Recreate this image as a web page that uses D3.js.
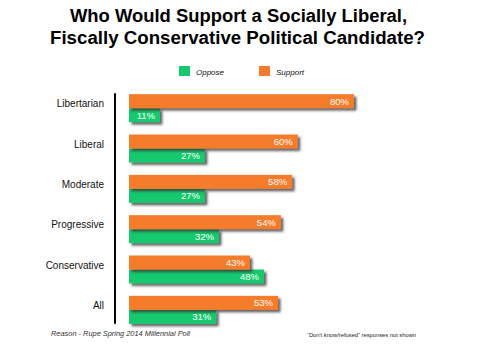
<!DOCTYPE html>
<html>
<head>
<meta charset="utf-8">
<script src="https://cdn.jsdelivr.net/npm/d3@7"></script>
<style>
  html, body { margin: 0; padding: 0; background: #fff; }
  svg { display: block; }
</style>
</head>
<body>
<svg id="chart" width="500" height="346"></svg>
<script>
const categories = ["Libertarian", "Liberal", "Moderate", "Progressive", "Conservative", "All"];
const supportValues = [80, 60, 58, 54, 43, 53];
const opposeValues = [11, 27, 27, 32, 48, 31];
const seriesNames = ["Support", "Oppose"];
const titleLines = ["Who Would Support a Socially Liberal,", "Fiscally Conservative Political Candidate?"];
const sourceText = "Reason - Rupe Spring 2014 Millennial Poll";
const noteText = "\u201CDon't know/refused\u201D responses not shown";

const colors = { Support: "#F47B2C", Oppose: "#17C96E" };
const font = "'Liberation Sans', Arial, sans-serif";

const svg = d3.select("#chart");

// defs: drop shadow
const defs = svg.append("defs");
const f = defs.append("filter").attr("id", "shadow")
  .attr("x", "-10%").attr("y", "-30%").attr("width", "130%").attr("height", "180%");
f.append("feDropShadow").attr("dx", 2.5).attr("dy", 2.5).attr("stdDeviation", 1.2)
  .attr("flood-color", "#333").attr("flood-opacity", 0.75);

// Title
svg.append("g").selectAll("text").data(titleLines).join("text")
  .attr("x", (d, i) => i === 0 ? 238.5 : 237.5)
  .attr("y", (d, i) => i === 0 ? 22 : 44)
  .attr("text-anchor", "middle")
  .attr("font-family", font)
  .attr("font-weight", "bold")
  .attr("font-size", 18)
  .attr("textLength", (d, i) => i === 0 ? 337 : 375)
  .attr("lengthAdjust", "spacingAndGlyphs")
  .attr("fill", "#000")
  .text(d => d);

// Legend
const legendItems = [
  { name: "Oppose", x: 179 },
  { name: "Support", x: 259 }
];
const lg = svg.append("g").selectAll("g").data(legendItems).join("g")
  .attr("transform", d => `translate(${d.x},66)`);
lg.append("rect").attr("width", 11).attr("height", 10).attr("fill", d => colors[d.name]);
lg.append("text").attr("x", 17).attr("y", 8.5)
  .attr("font-family", font).attr("font-size", 8).attr("font-style", "italic")
  .attr("fill", "#111").text(d => d.name);

// Scales
const x = d3.scaleLinear().domain([0, 100]).range([129, 129 + 281.25]);
const y = d3.scaleBand().domain(categories).range([88, 330]).paddingInner(0.306).paddingOuter(0.153);
const yInner = d3.scaleBand().domain(seriesNames).range([0, y.bandwidth()]);

const rows = categories.map((c, i) => ({
  cat: c,
  items: [
    { series: "Support", value: supportValues[i] },
    { series: "Oppose", value: opposeValues[i] }
  ]
}));

const rowG = svg.append("g").selectAll("g").data(rows).join("g")
  .attr("transform", d => `translate(0,${y(d.cat)})`);

// draw oppose first then support (support shadow overlays green)
rowG.selectAll("rect").data(d => d.items.slice().reverse()).join("rect")
  .attr("x", x(0))
  .attr("y", d => yInner(d.series))
  .attr("width", d => x(d.value) - x(0))
  .attr("height", yInner.bandwidth())
  .attr("fill", d => colors[d.series])
  .attr("filter", "url(#shadow)");

rowG.selectAll("text.val").data(d => d.items).join("text")
  .attr("class", "val")
  .attr("x", d => x(d.value) - 5)
  .attr("y", d => yInner(d.series) + yInner.bandwidth() / 2 + 3.5)
  .attr("text-anchor", "end")
  .attr("font-family", font)
  .attr("font-size", 9.5)
  .attr("fill", "#fff")
  .text(d => d.value + "%");

// Category labels
svg.append("g").selectAll("text").data(categories).join("text")
  .attr("x", 104)
  .attr("y", d => y(d) + 13)
  .attr("text-anchor", "end")
  .attr("font-family", font)
  .attr("font-size", 10)
  .attr("fill", "#111")
  .text(d => d);

// Axis line
svg.append("line")
  .attr("x1", 115).attr("x2", 115)
  .attr("y1", y(categories[0]) - 1)
  .attr("y2", y(categories[categories.length - 1]) + y.bandwidth())
  .attr("stroke", "#000").attr("stroke-width", 2);

// Footer
svg.append("text").attr("x", 51).attr("y", 336)
  .attr("font-family", font).attr("font-size", 8).attr("font-style", "italic")
  .attr("textLength", 139).attr("lengthAdjust", "spacingAndGlyphs")
  .attr("fill", "#333").text(sourceText);
svg.append("text").attr("x", 307).attr("y", 337)
  .attr("font-family", font).attr("font-size", 6)
  .attr("textLength", 109).attr("lengthAdjust", "spacingAndGlyphs")
  .attr("fill", "#222").text(noteText);
</script>
</body>
</html>
